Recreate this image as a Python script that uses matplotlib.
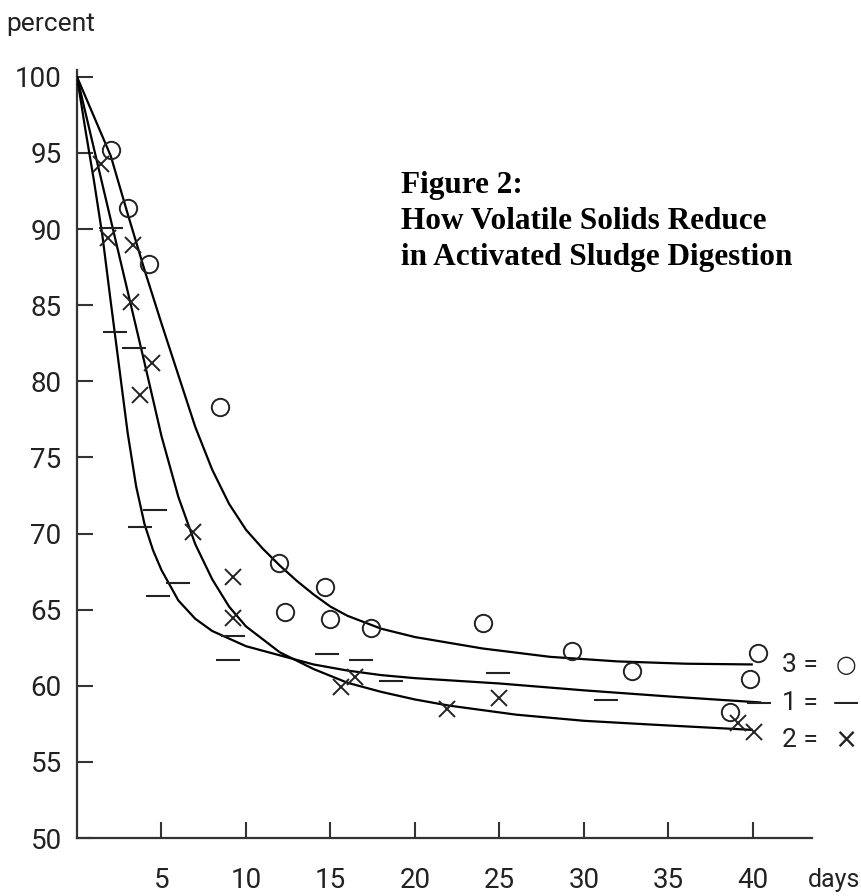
import matplotlib
matplotlib.use("Agg")
import matplotlib.pyplot as plt

# ---- data ----
# fitted curves (days, percent)
curve1_x = [0, 0.5, 1, 1.5, 2, 2.5, 3, 3.5, 4, 4.5, 5, 6, 7, 8, 10, 12, 14, 16, 18, 20, 25, 30, 35, 40.5]
curve1_y = [100, 96.5, 93.2, 89.6, 85.2, 80.9, 76.6, 73.1, 70.6, 68.9, 67.6, 65.6, 64.4, 63.6, 62.6, 62.0,
            61.4, 61.0, 60.7, 60.5, 60.15, 59.7, 59.3, 58.9]
curve2_x = [0, 1, 2, 3, 4, 5, 6, 7, 8, 9, 10, 12, 14, 16, 18, 20, 22, 26, 30, 34, 40]
curve2_y = [100, 95.3, 90.6, 85.9, 81.2, 76.4, 72.4, 69.3, 67.0, 65.2, 63.9, 62.2, 61.1, 60.2, 59.6, 59.1,
            58.7, 58.1, 57.7, 57.45, 57.1]
curve3_x = [0, 1, 2, 3, 4, 5, 6, 7, 8, 9, 10, 11, 12, 13, 14, 15, 16, 18, 20, 24, 28, 32, 36, 40]
curve3_y = [100, 97.4, 94.8, 91.0, 87.3, 83.8, 80.4, 77.0, 74.2, 71.95, 70.25, 69.0, 67.9, 66.9, 66.0,
            65.2, 64.6, 63.75, 63.2, 62.45, 61.9, 61.6, 61.45, 61.4]

# observations: series 1 (dash), 2 (cross), 3 (circle)
s1_x = [2.04, 2.23, 3.36, 4.60, 3.71, 4.80, 5.99, 9.24, 8.95, 14.77, 16.80, 18.58, 24.94, 31.29, 40.35]
s1_y = [90.06, 83.23, 82.17, 71.55, 70.45, 65.92, 66.77, 63.29, 61.70, 62.07, 61.70, 60.32, 60.82, 59.07, 58.89]
s2_x = [1.4, 1.84, 3.32, 3.22, 4.45, 3.71, 6.87, 9.24, 9.24, 15.62, 16.45, 21.92, 24.97, 39.15, 40.04]
s2_y = [94.3, 89.40, 88.96, 85.24, 81.19, 79.11, 70.13, 67.17, 64.43, 59.94, 60.6, 58.46, 59.18, 57.54, 56.98]
s3_x = [2.04, 3.03, 4.27, 8.49, 11.97, 12.30, 14.67, 14.97, 17.39, 24.05, 29.28, 32.83, 40.33, 39.84, 38.65]
s3_y = [95.2, 91.37, 87.69, 78.34, 68.05, 64.87, 66.47, 64.37, 63.82, 64.15, 62.29, 60.99, 62.13, 60.45, 58.26]

x_ticks = [5, 10, 15, 20, 25, 30, 35, 40]
y_ticks = [50, 55, 60, 65, 70, 75, 80, 85, 90, 95, 100]

title_lines = ["Figure 2:", "How Volatile Solids Reduce", "in Activated Sludge Digestion"]
legend_labels = ["3 =", "1 =", "2 ="]
legend_symbols = ["\u25cb", "\u2014", "\u00d7"]

# ---- figure ----
W, H = 862, 896
fig = plt.figure(figsize=(W / 100, H / 100), dpi=100)
ax = fig.add_axes([77 / W, (H - 838) / H, 735 / W, 768 / H])
ax.set_xlim(0, 43.5)
ax.set_ylim(50, 100.45)

tick_font = ['Roboto', 'DejaVu Sans']
ink = '#222222'

lw = 1.6
for cx, cy in [(curve1_x, curve1_y), (curve2_x, curve2_y), (curve3_x, curve3_y)]:
    ax.plot(cx, cy, color='black', lw=lw, solid_capstyle='butt', solid_joinstyle='round', zorder=3)

ax.plot(s1_x, s1_y, ls='none', marker='_', ms=17, mew=1.5, color=ink, zorder=4)
ax.plot(s2_x, s2_y, ls='none', marker='x', ms=12, mew=1.4, color=ink, zorder=4)
ax.plot(s3_x, s3_y, ls='none', marker='o', ms=12.5, mew=1.4, mfc='none', mec=ink, zorder=4)

for s in ['top', 'right']:
    ax.spines[s].set_visible(False)
for s in ['left', 'bottom']:
    ax.spines[s].set_linewidth(1.6)
    ax.spines[s].set_color('#333333')

ax.set_xticks(x_ticks)
ax.set_yticks(y_ticks)
ax.set_xticklabels([str(v) for v in x_ticks])
ax.set_yticklabels([str(v) for v in y_ticks])
ax.tick_params(axis='both', direction='in', length=11.5, width=1.5, color='#333333',
               labelsize=20, labelcolor=ink)
ax.tick_params(axis='y', pad=11)
ax.tick_params(axis='x', pad=21)
for lab in ax.get_xticklabels() + ax.get_yticklabels():
    lab.set_family(tick_font)

fig.text(6 / W, 1 - 24 / H, "percent", fontsize=19, family=tick_font, color=ink,
         ha='left', va='center')
fig.text(808 / W, 1 - 880 / H, "days", fontsize=18, family=tick_font, color=ink,
         ha='left', va='center')

# title
for i, line in enumerate(title_lines):
    fig.text(401 / W, 1 - (193 + 36 * i) / H, line, fontsize=22.5, fontweight='bold',
             family=['Liberation Serif', 'DejaVu Serif'], ha='left', va='baseline', color='black')

# legend text
sym_sizes = [17, 19, 20]
for i, (lab, sym) in enumerate(zip(legend_labels, legend_symbols)):
    y = 1 - (665 + 37.5 * i) / H
    fig.text(782 / W, y, lab, fontsize=19, family=tick_font, ha='left', va='center', color=ink)
    fig.text(846 / W, y, sym, fontsize=sym_sizes[i],
             family=['DejaVu Sans'], ha='center', va='center', color=ink)

fig.savefig("out.png", dpi=100)
